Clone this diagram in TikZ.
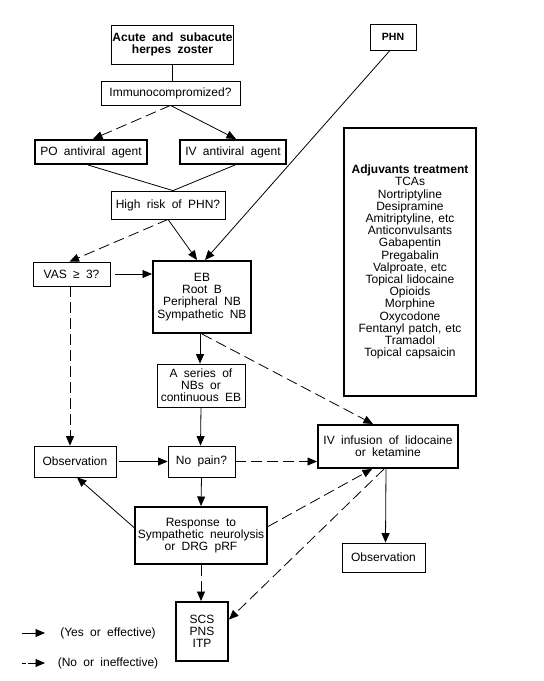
\documentclass[tikz,border=0pt]{standalone}
\usepackage{fontspec}
\setmainfont{Liberation Sans}[WordSpace=1.9]
\usetikzlibrary{arrows.meta,positioning}

\begin{document}
\begin{tikzpicture}[x=1pt,y=-1pt,>={Triangle[length=9.5pt,width=8pt]},
  font=\fontsize{12}{12.2}\selectfont,
  box/.style={draw,line width=0.8pt,align=center,inner sep=1pt},
  bbox/.style={box,line width=2pt},
  yes/.style={->,line width=0.8pt},
  no/.style={->,line width=0.8pt,dash pattern=on 11pt off 5pt}]
\useasboundingbox (0,0) rectangle (544,681);

\node at (172.5,44.5) (Acute) [box,minimum width=121,minimum height=39,font=\fontsize{12}{12.2}\selectfont\bfseries] {Acute and subacute\\herpes zoster};
\node at (170.5,93) (Immuno) [box,minimum width=139,minimum height=24] {Immunocompromized?};
\node at (91,152) (PO) [bbox,minimum width=112,minimum height=24] {PO antiviral agent};
\node at (233,152) (IV) [bbox,minimum width=106,minimum height=24] {IV antiviral agent};
\node at (168,205) (Risk) [box,minimum width=114,minimum height=28] {High risk of PHN?};
\node at (393,37) (PHN) [box,minimum width=46,minimum height=26,font=\fontsize{10.5}{12}\selectfont\bfseries] {PHN};
\node at (410,262) (Adj) [bbox,minimum width=132,minimum height=268,text width=124] {\textbf{Adjuvants treatment}\\TCAs\\Nortriptyline\\Desipramine\\Amitriptyline, etc\\Anticonvulsants\\Gabapentin\\Pregabalin\\Valproate, etc\\Topical lidocaine\\Opioids\\Morphine\\Oxycodone\\Fentanyl patch, etc\\Tramadol\\Topical capsaicin};
\node at (71.5,274) (VAS) [box,minimum width=77,minimum height=24] {VAS ≥ 3?};
\node at (202,297) (EB) [bbox,minimum width=98,minimum height=72] {EB\\Root B\\Peripheral NB\\Sympathetic NB};
\node at (201,385.5) (Series) [box,minimum width=88,minimum height=43] {A series of\\NBs or\\continuous EB};
\node at (201.5,461.5) (NoPain) [box,minimum width=67,minimum height=31] {No pain?};
\node at (75,461.5) (ObsL) [box,minimum width=82,minimum height=31] {Observation};
\node at (388,446.5) (Infusion) [bbox,minimum width=140,minimum height=43] {IV infusion of lidocaine\\or ketamine};
\node at (383.5,557.5) (ObsR) [box,minimum width=83,minimum height=29] {Observation};
\node at (201,535.5) (Response) [bbox,minimum width=132,minimum height=57] {Response to\\Sympathetic neurolysis\\or DRG pRF};
\node at (202,631.5) (SCS) [bbox,minimum width=52,minimum height=59] {SCS\\PNS\\ITP};

% top part
\draw [line width=0.8pt] (Acute.south) -- (Immuno.north -| Acute.south);
\draw [no] (Immuno.south) -- ([xshift=2pt]PO.north);
\draw [yes] (Immuno.south) -- ([xshift=3pt]IV.north);
\draw [line width=0.8pt] ([xshift=-3pt]PO.south) -- ([xshift=5pt]Risk.north) -- ([xshift=2pt]IV.south);
\draw [no] (Risk.south) -- ([xshift=-2pt]VAS.north);
\draw [yes] (Risk.south) -- ([xshift=-5pt]EB.north);
\draw [yes] ([xshift=-3pt]PHN.south) -- ([xshift=3pt]EB.north);

% middle part
\draw [yes,shorten <=5pt] (VAS.east) -- (EB.west |- VAS.east);
\draw [no] ([xshift=-1.5pt]VAS.south) -- ([xshift=-1.5pt]VAS.south |- ObsL.north);
\draw [yes] ([xshift=-2pt]EB.south) -- ([xshift=-1pt]Series.north);
\draw [no] (EB.south) -- ([xshift=-15pt]Infusion.north);
\draw [yes] (Series.south) -- ([xshift=-1pt]NoPain.north);
\draw [yes,shorten <=3pt] (ObsL.east) -- (NoPain.west);
\draw [no] (NoPain.east) -- (Infusion.west |- NoPain.east);

% bottom part
\draw [yes] (NoPain.south) -- (Response.north);
\draw [yes] ([yshift=8pt]Response.west) -- ([xshift=2pt]ObsL.south);
\draw [no] ([yshift=9pt]Response.east) -- ([xshift=-16pt]Infusion.south);
\draw [no] ([xshift=-4pt]Infusion.south) -- ([yshift=12pt]SCS.east);
\draw [yes] ([xshift=-2pt]Infusion.south) -- ([xshift=2pt]ObsR.north);
\draw [no] (Response.south) -- ([xshift=-1pt]SCS.north);

% legend
\coordinate (Y1) at (22,633);
\coordinate (Y2) at (45,633);
\coordinate (N1) at (22,663);
\coordinate (N2) at (45,663);
\draw [yes] (Y1) -- (Y2);
\draw [no,dash pattern=on 4pt off 2pt on 20pt] (N1) -- (N2);
\node at (108,633) (YesText) {(Yes or effective)};
\node at (108,663) (NoText) {(No or ineffective)};
\end{tikzpicture}
\end{document}
